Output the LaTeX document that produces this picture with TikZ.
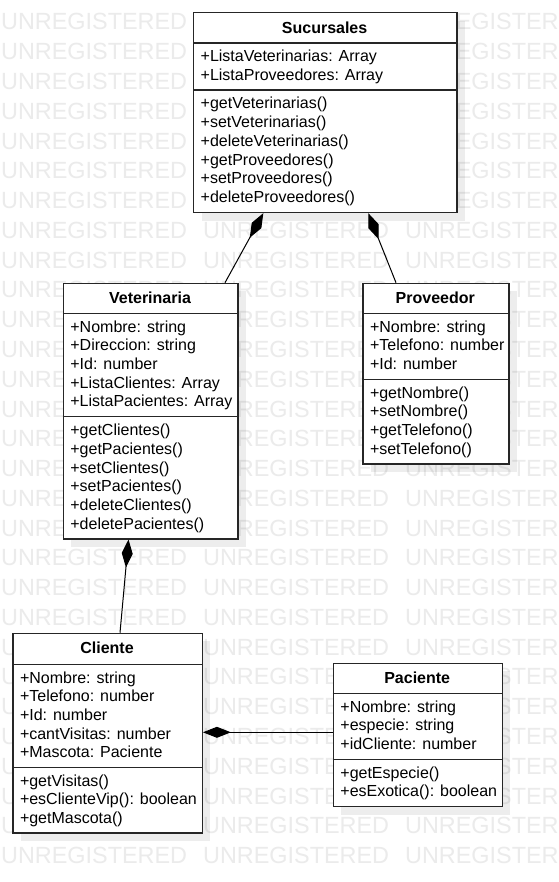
\documentclass[tikz,border=0pt]{standalone}
\usepackage{fontspec}
\setmainfont{Liberation Sans}
\usetikzlibrary{arrows.meta,shadows,calc}
\definecolor{wm}{RGB}{235,235,235}
\newcommand\cllines[4]{%
  \foreach \t [count=\i] in {#4} \node[txt] (#1\i) at ({#2},{#3+(\i-1)*18.67}) {\t};}
\begin{document}
\begin{tikzpicture}[x=1pt,y=-1pt,
  txt/.style={font=\fontsize{16}{18.67}\selectfont, anchor=base west, inner sep=0pt},
  ttl/.style={font=\fontsize{16}{18.67}\selectfont\bfseries, anchor=base, inner sep=0pt},
  umlbox/.style={draw=black!85, line width=1.2pt, fill=white, anchor=north west, inner sep=0pt,
    drop shadow={shadow xshift=8pt, shadow yshift=-8pt, fill=black, opacity=0.07}},
  sepline/.style={draw=black!85, line width=1.2pt},
  wmtext/.style={font=\fontsize{23.4}{28}\selectfont, text=wm, anchor=base west, inner sep=0pt},
  comp/.style={draw=black, line width=1pt, -{Diamond[length=28pt,width=11pt]}},
]
\useasboundingbox[fill=white] (0,0) rectangle (558,882);
% watermark
\foreach \k in {0,...,28}{
  \foreach \j in {0,1,2}{
    \node[wmtext] (wm-\k-\j) at ({1+202*\j},{30+29.77*\k}) {UNREGISTERED};
  }
}
% boxes
\node[umlbox, minimum width=263.3pt, minimum height=200pt] (suc) at (193,12) {};
\node[umlbox, minimum width=174.6pt, minimum height=255.6pt] (vet) at (62.7,282.7) {};
\node[umlbox, minimum width=146pt, minimum height=180.6pt] (pro) at (362.3,282.7) {};
\node[umlbox, minimum width=189.4pt, minimum height=199.6pt] (cli) at (12.3,632.7) {};
\node[umlbox, minimum width=169pt, minimum height=143.3pt] (pac) at (332.7,662.7) {};
% separators
\draw[sepline] (193,43) -- (456.3,43) (193,90) -- (456.3,90);
\draw[sepline] (62.7,313.3) -- (237.3,313.3) (62.7,416.7) -- (237.3,416.7);
\draw[sepline] (362.3,313.3) -- (508.3,313.3) (362.3,379.3) -- (508.3,379.3);
\draw[sepline] (12.3,664.3) -- (201.7,664.3) (12.3,767.3) -- (201.7,767.3);
\draw[sepline] (332.7,693.3) -- (501.7,693.3) (332.7,759.3) -- (501.7,759.3);
% titles
\node[ttl] (suc-t) at (324.6,33.3) {Sucursales};
\node[ttl] (vet-t) at (150,303.7) {Veterinaria};
\node[ttl] (pro-t) at (435.3,303.7) {Proveedor};
\node[ttl] (cli-t) at (107,653.7) {Cliente};
\node[ttl] (pac-t) at (417.2,683.7) {Paciente};
% Sucursales
\cllines{suc-a}{200.5}{62}{+ListaVeterinarias: Array,+ListaProveedores: Array}
\cllines{suc-m}{200.5}{109}{+getVeterinarias(),+setVeterinarias(),+deleteVeterinarias(),+getProveedores(),+setProveedores(),+deleteProveedores()}
% Veterinaria
\cllines{vet-a}{70.2}{332.3}{+Nombre: string,+Direccion: string,+Id: number,+ListaClientes: Array,+ListaPacientes: Array}
\cllines{vet-m}{70.2}{435.7}{+getClientes(),+getPacientes(),+setClientes(),+setPacientes(),+deleteClientes(),+deletePacientes()}
% Proveedor
\cllines{pro-a}{369.8}{332.3}{+Nombre: string,+Telefono: number,+Id: number}
\cllines{pro-m}{369.8}{398.3}{+getNombre(),+setNombre(),+getTelefono(),+setTelefono()}
% Cliente
\cllines{cli-a}{19.8}{683.3}{+Nombre: string,+Telefono: number,+Id: number,+cantVisitas: number,+Mascota: Paciente}
\cllines{cli-m}{19.8}{786.3}{+getVisitas(),+esClienteVip(): boolean,+getMascota()}
% Paciente
\cllines{pac-a}{340.2}{712.3}{+Nombre: string,+especie: string,+idCliente: number}
\cllines{pac-m}{340.2}{778.3}{+getEspecie(),+esExotica(): boolean}
% connectors
\coordinate (s1) at ($(suc.south west)+(70.3,0)$);
\coordinate (s2) at ($(suc.south west)+(175.3,0)$);
\coordinate (v1) at ($(vet.north west)+(162.3,0)$);
\coordinate (p1) at ($(pro.north west)+(33.7,0)$);
\coordinate (v2) at ($(vet.south west)+(65.8,0)$);
\coordinate (c1) at ($(cli.north west)+(107.7,0)$);
\coordinate (p2) at ($(pac.north west)+(0,69.6)$);
\coordinate (c2) at (cli.east |- p2);
\draw[comp] (v1) -- (s1);
\draw[comp] (p1) -- (s2);
\draw[comp] (c1) -- (v2);
\draw[comp] (p2) -- (c2);
\end{tikzpicture}
\end{document}
